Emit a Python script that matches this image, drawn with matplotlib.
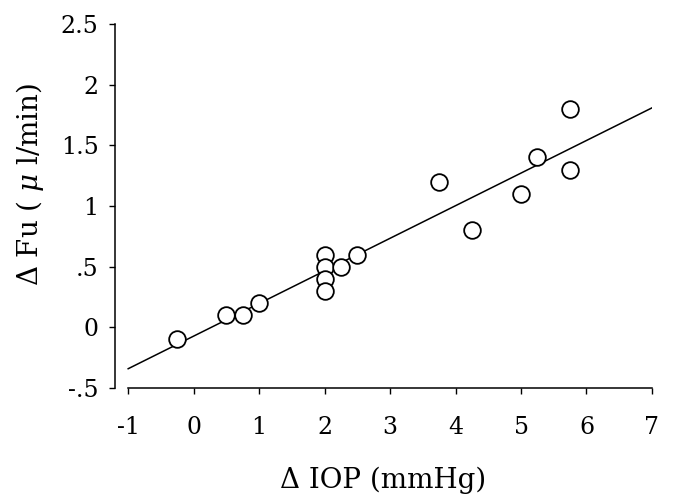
import numpy as np
import matplotlib
matplotlib.use("Agg")
import matplotlib.pyplot as plt

# values
d_iop = [-0.25, 0.5, 0.75, 1.0, 2.0, 2.0, 2.0, 2.0, 2.25, 2.5, 3.75, 4.25, 5.0, 5.25, 5.75, 5.75]
d_fu = [-0.1, 0.1, 0.1, 0.2, 0.6, 0.5, 0.4, 0.3, 0.5, 0.6, 1.2, 0.8, 1.1, 1.4, 1.8, 1.3]

x_ticks = [-1, 0, 1, 2, 3, 4, 5, 6, 7]
x_ticklabels = ['-1', '0', '1', '2', '3', '4', '5', '6', '7']
y_ticks = [-0.5, 0, 0.5, 1, 1.5, 2, 2.5]
y_ticklabels = ['-.5', '0', '.5', '1', '1.5', '2', '2.5']

plt.rcParams['font.family'] = ['DejaVu Serif']
plt.rcParams['mathtext.fontset'] = 'dejavuserif'

fig = plt.figure(figsize=(6.77, 4.94), dpi=100)
ax = fig.add_axes([0.170, 0.2146, 0.793, 0.7368])

# regression line
slope, icpt = np.polyfit(d_iop, d_fu, 1)
xl = np.array([-1, 7])
ax.plot(xl, icpt + slope * xl, color='black', lw=1.1, zorder=2)

ax.plot(d_iop, d_fu, 'o', ms=12, mfc='white', mec='black', mew=1.3, zorder=3)

ax.set_xlim(-1.2, 7.0)
ax.set_ylim(-0.5, 2.5)
ax.spines['top'].set_visible(False)
ax.spines['right'].set_visible(False)
ax.spines['bottom'].set_bounds(-1, 7)
for s in ['left', 'bottom']:
    ax.spines[s].set_linewidth(1.1)

ax.set_xticks(x_ticks)
ax.set_xticklabels(x_ticklabels)
ax.set_yticks(y_ticks)
ax.set_yticklabels(y_ticklabels)
ax.tick_params(axis='both', direction='out', length=4, width=1.0, labelsize=17)
ax.tick_params(axis='x', pad=16)
ax.tick_params(axis='y', pad=8)

ax.set_xlabel('Δ IOP (mmHg)', fontsize=20, labelpad=20)
ax.set_ylabel(r'Δ Fu ( $\mu$ l/min)', fontsize=20)
ax.yaxis.set_label_coords(-0.129, 0.558)

plt.savefig('out.png', dpi=100)
